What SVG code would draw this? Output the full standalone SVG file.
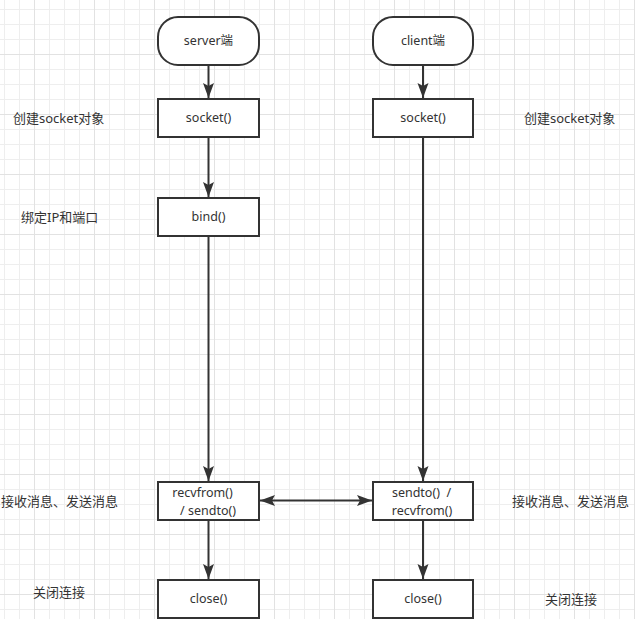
<svg xmlns="http://www.w3.org/2000/svg" width="635" height="619" viewBox="0 0 635 619">
<defs>
<pattern id="minor" x="4" y="9" width="15" height="15" patternUnits="userSpaceOnUse">
<path d="M0.5,0 V15 M0,0.5 H15" fill="none" stroke="#eeeeee" stroke-width="1"/>
</pattern>
<pattern id="major" x="34" y="54" width="60" height="60" patternUnits="userSpaceOnUse">
<path d="M0.5,0 V60 M0,0.5 H60" fill="none" stroke="#e2e2e2" stroke-width="1"/>
</pattern>
<marker id="arr" markerUnits="userSpaceOnUse" markerWidth="16" markerHeight="12" refX="15" refY="5.5" orient="auto-start-reverse">
<path d="M0,0 L15,5.5 L0,11 L3,5.5 Z" fill="#333333"/>
</marker>
</defs>
<style>
.box{fill:#ffffff;stroke:#333333;stroke-width:2}
.t{font-family:"Noto Sans","Noto Sans CJK SC",sans-serif;font-size:12.5px;fill:#333333;text-anchor:middle}
.lbl{font-family:"Noto Sans","Noto Sans CJK SC",sans-serif;font-size:13px;fill:#333333}
.c{fill:none;stroke:#333333;stroke-width:2;marker-end:url(#arr)}
</style>
<rect width="635" height="619" fill="#ffffff"/>
<rect width="635" height="619" fill="url(#minor)"/>
<rect width="635" height="619" fill="url(#major)"/>

<g id="connectors">
<line class="c" x1="208.5" y1="65" x2="208.5" y2="98"/>
<line class="c" x1="423" y1="65" x2="423" y2="98"/>
<line class="c" x1="208.5" y1="137" x2="208.5" y2="197"/>
<line class="c" x1="208.5" y1="236" x2="208.5" y2="481"/>
<line class="c" x1="423" y1="137" x2="423" y2="481"/>
<line class="c" x1="260" y1="500.5" x2="372" y2="500.5" marker-start="url(#arr)"/>
<line class="c" x1="208.5" y1="520" x2="208.5" y2="579"/>
<line class="c" x1="423" y1="520" x2="423" y2="579"/>
</g>

<g id="server">
<rect class="box" x="158" y="17" width="101" height="48" rx="20" ry="20"/>
<text class="t" x="208.5" y="45">server端</text>
</g>
<g id="client">
<rect class="box" x="373" y="17" width="100" height="48" rx="20" ry="20"/>
<text class="t" x="423" y="45">client端</text>
</g>
<g id="server-socket">
<rect class="box" x="158" y="99" width="101" height="38"/>
<text class="t" x="208.5" y="122">socket()</text>
</g>
<g id="client-socket">
<rect class="box" x="373" y="99" width="100" height="38"/>
<text class="t" x="423" y="122">socket()</text>
</g>
<g id="bind">
<rect class="box" x="158" y="198" width="101" height="38"/>
<text class="t" x="208.5" y="221">bind()</text>
</g>
<g id="recvfrom">
<rect class="box" x="158" y="482" width="101" height="38"/>
<text class="t" x="202.5" y="497">recvfrom()</text>
<text class="t" x="208" y="515">/ sendto()</text>
</g>
<g id="sendto">
<rect class="box" x="373" y="482" width="100" height="38"/>
<text class="t" x="421.5" y="497" xml:space="preserve">sendto()  /</text>
<text class="t" x="422" y="515">recvfrom()</text>
</g>
<g id="server-close">
<rect class="box" x="158" y="580" width="101" height="38"/>
<text class="t" x="208.5" y="603">close()</text>
</g>
<g id="client-close">
<rect class="box" x="373" y="580" width="100" height="38"/>
<text class="t" x="423" y="603">close()</text>
</g>

<g id="labels">
<text class="lbl" x="13" y="122.5">创建socket对象</text>
<text class="lbl" x="21" y="222">绑定IP和端口</text>
<text class="lbl" x="1" y="506">接收消息、发送消息</text>
<text class="lbl" x="33" y="597">关闭连接</text>
<text class="lbl" x="524" y="122.5">创建socket对象</text>
<text class="lbl" x="512" y="506">接收消息、发送消息</text>
<text class="lbl" x="545" y="604">关闭连接</text>
</g>
</svg>
